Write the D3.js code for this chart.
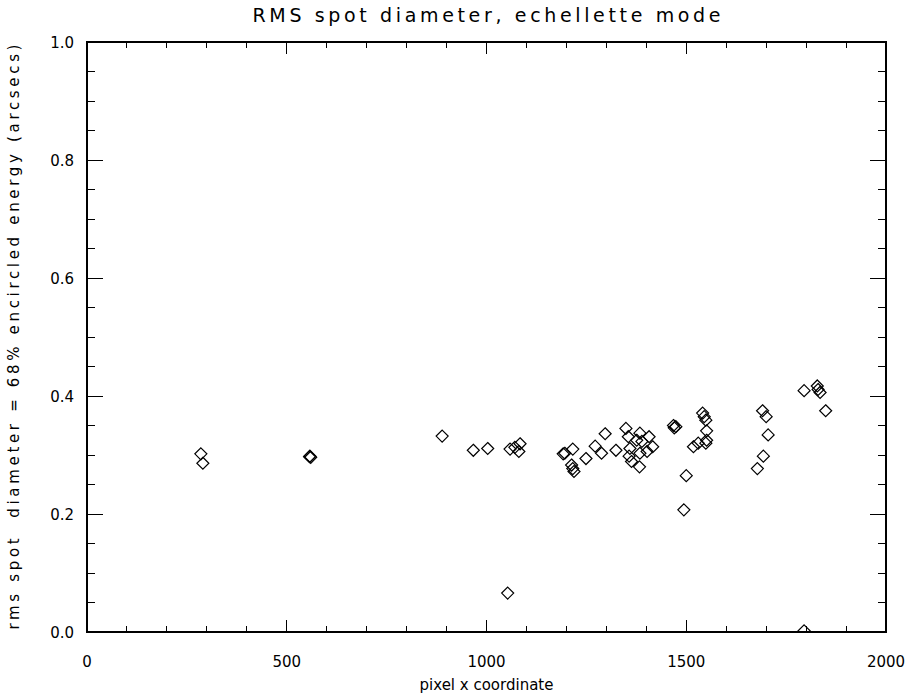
<!DOCTYPE html>
<html><head><meta charset="utf-8">
<script src="https://cdn.jsdelivr.net/npm/d3@7"></script>
<style>body{margin:0;background:#fff}svg{display:block}text{font-family:"DejaVu Sans",sans-serif;fill:#000;white-space:pre}</style>
</head><body>
<script>
const title = "RMS spot diameter, echellette mode";
const xLabel = "pixel x coordinate";
const yLabel = "rms spot  diameter = 68% encircled energy (arcsecs)";
const xTicks = [0, 500, 1000, 1500, 2000];
const yTicks = [0.0, 0.2, 0.4, 0.6, 0.8, 1.0];
const xPix = [285, 290, 558, 560, 557, 889, 967, 1003, 1059, 1084, 1081, 1071, 1053,
  1192, 1196, 1216, 1213, 1219, 1216, 1249, 1272, 1288, 1297, 1324, 1349, 1355, 1359, 1357, 1363,
  1384, 1389, 1376, 1384, 1383, 1402, 1416, 1407, 1468, 1474, 1470, 1500, 1494,
  1541, 1545, 1549, 1551, 1518, 1530, 1549, 1551,
  1691, 1700, 1705, 1693, 1678, 1795, 1828, 1835, 1830, 1849, 1795];
const rmsDiam = [0.302, 0.286, 0.298, 0.296, 0.297, 0.332, 0.308, 0.311, 0.310, 0.319, 0.306, 0.313, 0.066,
  0.302, 0.303, 0.310, 0.283, 0.272, 0.277, 0.294, 0.315, 0.303, 0.336, 0.308, 0.345, 0.331, 0.311, 0.298, 0.289,
  0.337, 0.323, 0.325, 0.303, 0.280, 0.306, 0.314, 0.331, 0.350, 0.348, 0.346, 0.265, 0.207,
  0.371, 0.365, 0.359, 0.341, 0.314, 0.320, 0.320, 0.325,
  0.375, 0.365, 0.334, 0.298, 0.277, 0.409, 0.417, 0.406, 0.411, 0.375, 0.002];

const W = 915, H = 698;
const L = 87, R = 886, T = 42, B = 632;
const svg = d3.select("body").append("svg").attr("width", W).attr("height", H);
const x = d3.scaleLinear().domain([0, 2000]).range([L, R]);
const y = d3.scaleLinear().domain([0, 1]).range([B, T]);

const g = svg.append("g").attr("shape-rendering", "crispEdges");
g.append("rect").attr("x", L).attr("y", T).attr("width", R - L).attr("height", B - T)
  .attr("fill", "none").attr("stroke", "#000").attr("stroke-width", 1.2);

const xMinor = d3.range(0, 2001, 100);
const yMinor = d3.range(0, 1.0001, 0.05);
const xt = (v) => (xTicks.includes(v) ? 12 : 6);
const isMajY = (v) => Math.abs(v * 5 - Math.round(v * 5)) < 1e-6;
xMinor.forEach(v => {
  const len = xt(v);
  g.append("line").attr("x1", x(v)).attr("x2", x(v)).attr("y1", B).attr("y2", B - len).attr("stroke", "#000");
  g.append("line").attr("x1", x(v)).attr("x2", x(v)).attr("y1", T).attr("y2", T + len).attr("stroke", "#000");
});
yMinor.forEach(v => {
  const len = isMajY(v) ? 16 : 8;
  g.append("line").attr("y1", y(v)).attr("y2", y(v)).attr("x1", L).attr("x2", L + len).attr("stroke", "#000");
  g.append("line").attr("y1", y(v)).attr("y2", y(v)).attr("x1", R).attr("x2", R - len).attr("stroke", "#000");
});

svg.append("g").selectAll("text").data(xTicks).join("text")
  .attr("x", d => x(d)).attr("y", 667).attr("text-anchor", "middle")
  .attr("font-size", 15).text(d => d);
svg.append("g").selectAll("text").data(yTicks).join("text")
  .attr("x", 74).attr("y", d => y(d) + 6).attr("text-anchor", "end")
  .attr("font-size", 15).text(d => d.toFixed(1));

svg.append("text").attr("x", (L + R) / 2).attr("y", 22).attr("text-anchor", "middle")
  .attr("font-size", 19).attr("textLength", 468).attr("lengthAdjust", "spacing").text(title);
svg.append("text").attr("x", (L + R) / 2).attr("y", 690).attr("text-anchor", "middle")
  .attr("font-size", 15).text(xLabel);
svg.append("text").attr("transform", `translate(19,${(T + B) / 2}) rotate(-90)`)
  .attr("text-anchor", "middle").attr("font-size", 15)
  .attr("textLength", 585).attr("lengthAdjust", "spacing").text(yLabel);

const s = 6;
const diamond = `M0,${-s}L${s},0L0,${s}L${-s},0Z`;
svg.append("clipPath").attr("id", "pc").append("rect")
  .attr("x", L).attr("y", T).attr("width", R - L).attr("height", B - T);
svg.append("g").attr("clip-path", "url(#pc)").selectAll("path").data(xPix.map((v, i) => [v, rmsDiam[i]])).join("path")
  .attr("d", diamond).attr("transform", d => `translate(${x(d[0])},${y(d[1])})`)
  .attr("fill", "none").attr("stroke", "#000").attr("stroke-width", 1.2);
</script>
</body></html>
